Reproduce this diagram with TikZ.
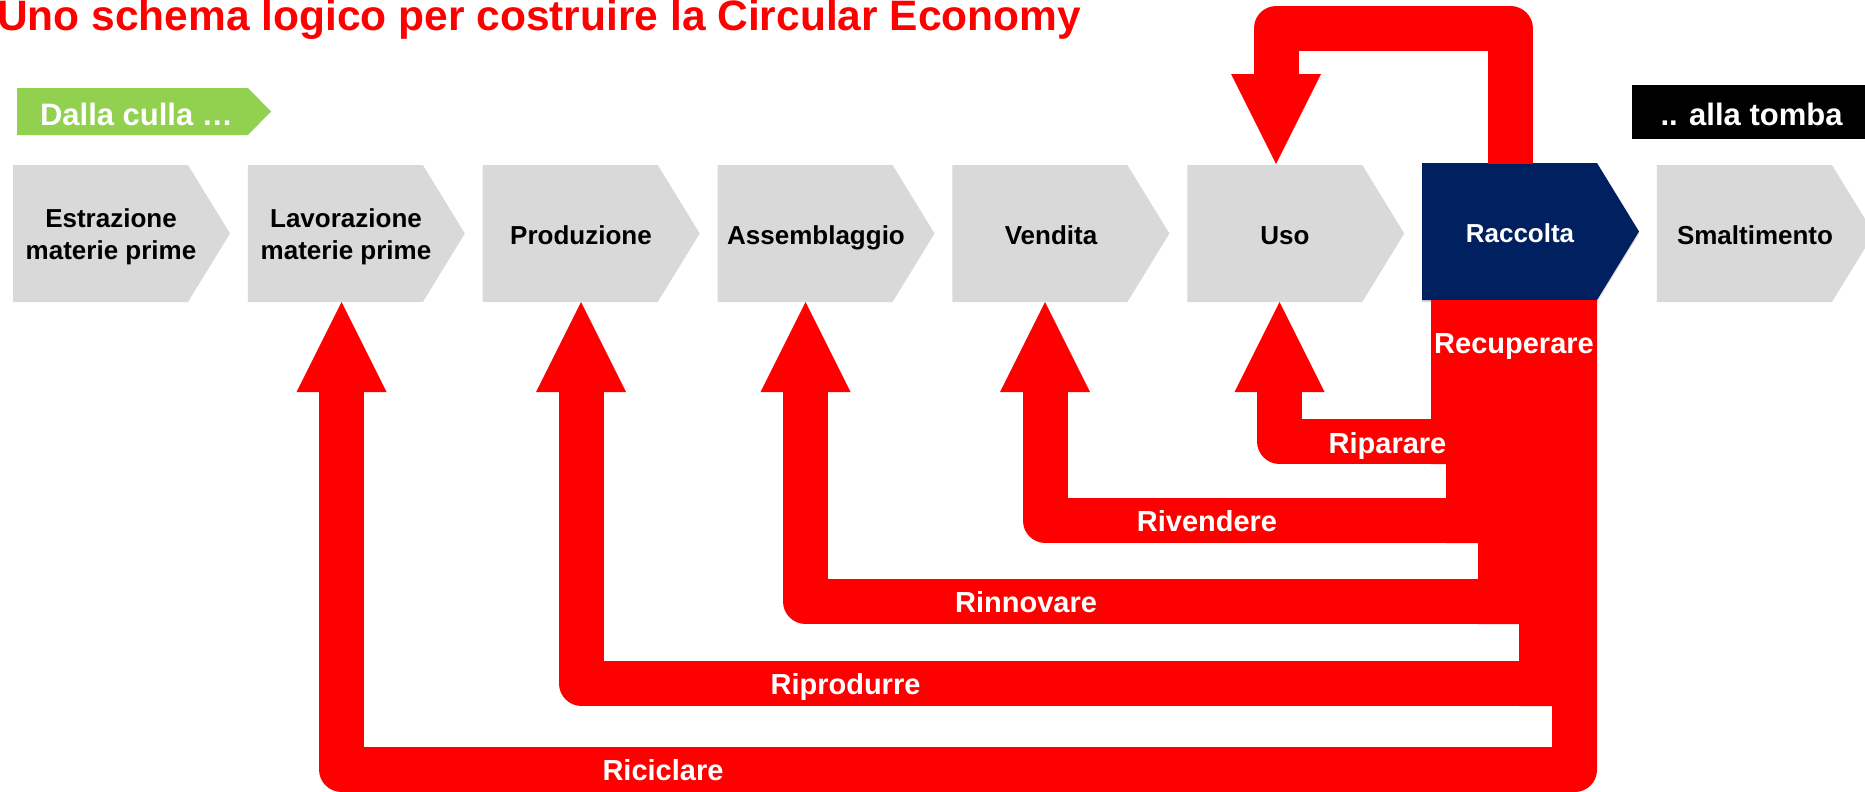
\documentclass[tikz,border=0pt]{standalone}
\usepackage{fontspec}
\setmainfont{Liberation Sans}
\usetikzlibrary{arrows.meta}
\definecolor{stagegray}{HTML}{D9D9D9}
\definecolor{collectblue}{HTML}{002060}
\definecolor{cradlegreen}{HTML}{92D050}
\definecolor{loopred}{HTML}{FF0000}

\begin{document}
\begin{tikzpicture}[x=1pt, y=-1pt]
	\tikzstyle{stage} = [inner sep=0pt, align=center, font=\fontsize{26}{32}\selectfont\bfseries]
	\tikzstyle{stageone} = [stage, text height=19pt, text depth=0pt]
	\tikzstyle{loop} = [draw=loopred, line width=45pt, line join=round, -{Triangle[width=90pt, length=90pt, line width=0pt]}]
	\tikzstyle{looplabel} = [anchor=base, inner sep=0pt, text=white, font=\fontsize{29}{35}\selectfont\bfseries]
	\tikzstyle{tag} = [anchor=base, inner sep=0pt, text=white, font=\fontsize{31}{37}\selectfont\bfseries]
	\useasboundingbox (0,0) rectangle (1865,792);
	\node[anchor=base west, inner sep=0pt, text=loopred, font=\fontsize{42.5}{50}\selectfont\bfseries] (title) at (-3,31) {Uno schema logico per costruire la Circular Economy};
	\fill[cradlegreen] (17,88) -- (248,88) -- (271,111.5) -- (248,135) -- (17,135) -- cycle;
	\node[tag] (culla) at (136.5,125) {Dalla culla …};
	\fill[black] (1632,85) rectangle (1865,139);
	\node[tag] (tomba) at (1751.5,125) {.. alla tomba};
	\foreach \i in {0,...,7}
		\fill[stagegray] ({13+234.85*\i},165) -- ++(175,0) -- ++(42,68.5) -- ++(-42,68.5) -- ++(-175,0) -- cycle;
	\fill[collectblue] (1422,163) -- ++(175,0) -- ++(42,68.5) -- ++(-42,68.5) -- ++(-175,0) -- cycle;
	\coordinate (rowtop) at (0,164);
	\coordinate (row) at (0,302);
	\node[stage] (estr) at (111,237) {Estrazione\\materie prime};
	\node[stage] (lav) at (346,237) {Lavorazione\\materie prime};
	\node[stageone] (prod) at (581,234.5) {Produzione};
	\node[stageone] (ass) at (816,234.5) {Assemblaggio};
	\node[stageone] (vend) at (1051,234.5) {Vendita};
	\node[stageone] (uso) at (1285,234.5) {Uso};
	\node[stageone, text=white] (racc) at (1520,232.5) {Raccolta};
	\node[stageone] (smal) at (1755,234.5) {Smaltimento};
	\fill[loopred] (1431,300) -- (1597,300) -- (1597,770) .. controls (1597,782) and (1587,792) .. (1575,792) -- (1552,792) -- (1552,706) -- (1519,706) -- (1519,624) -- (1478,624) -- (1478,543) -- (1446,543) -- (1446,464) -- (1431,464) -- cycle;
	\coordinate (ric) at (1560,769.5);
	\coordinate (ripr) at (1540,683);
	\coordinate (rinn) at (1500,601.5);
	\coordinate (rive) at (1470,520.5);
	\coordinate (ripa) at (1440,441.5);
	\draw[loop] (ric) -| ([xshift=-4.5pt]lav |- row);
	\draw[loop] (ripr) -| (prod |- row);
	\draw[loop] (rinn) -| ([xshift=-10.5pt]ass |- row);
	\draw[loop] (rive) -| ([xshift=-6pt]vend |- row);
	\draw[loop] (ripa) -| ([xshift=-5.5pt]uso |- row);
	\draw[loop] ([xshift=-9.5pt]racc |- rowtop) -- ++(0,-135.5) -| ([xshift=-9pt]uso |- rowtop);
	\node[looplabel] (recuperare) at (1514,353) {Recuperare};
	\node[looplabel] (riparare) at (1387.5,453) {Riparare};
	\node[looplabel] (rivendere) at (1207,531.5) {Rivendere};
	\node[looplabel] (rinnovare) at (1026,612.5) {Rinnovare};
	\node[looplabel] (riprodurre) at (845.5,694) {Riprodurre};
	\node[looplabel] (riciclare) at (663,780.5) {Riciclare};
\end{tikzpicture}
\end{document}
